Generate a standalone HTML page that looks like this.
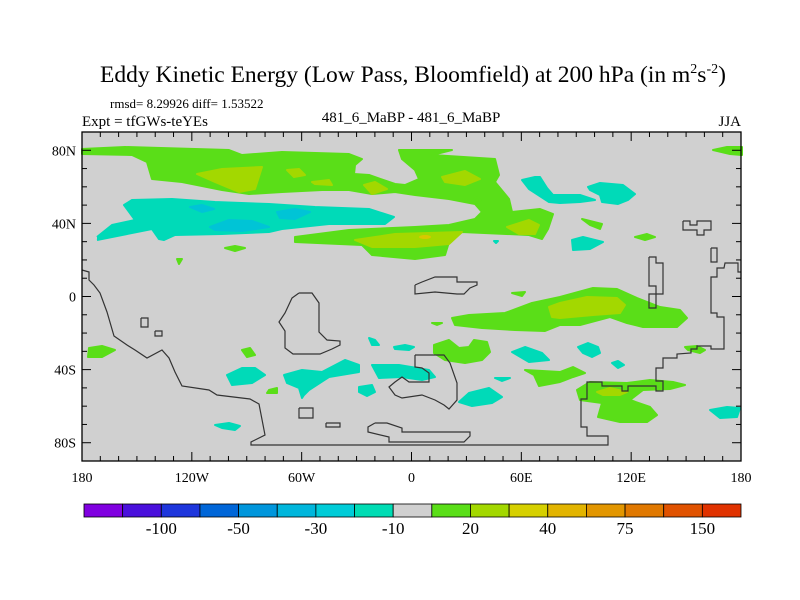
<!DOCTYPE html>
<html><head><meta charset="utf-8"><style>
body{margin:0;background:#fff}
svg{display:block;font-family:"Liberation Serif",serif}
</style></head><body>
<svg id="chart" width="800" height="600" viewBox="0 0 800 600" xmlns="http://www.w3.org/2000/svg">
<rect width="800" height="600" fill="#fff"/>
<text x="413" y="82" text-anchor="middle" font-size="23.5">Eddy Kinetic Energy (Low Pass, Bloomfield) at 200 hPa (in m<tspan dy="-9" font-size="14">2</tspan><tspan dy="9">s</tspan><tspan dy="-9" font-size="14">-2</tspan><tspan dy="9">)</tspan></text>
<text x="110" y="108" font-size="13">rmsd= 8.29926 diff= 1.53522</text>
<text x="82" y="126" font-size="15">Expt = tfGWs-teYEs</text>
<text x="411" y="122" text-anchor="middle" font-size="15">481_6_MaBP - 481_6_MaBP</text>
<text x="741" y="126" text-anchor="end" font-size="15">JJA</text>
<g id="map">
<rect x="82" y="132" width="659" height="329" fill="#d0d0d0"/>
<g id="contours"></g>
<g id="coast" fill="none" stroke="#333" stroke-width="1.2"></g>
<rect x="82" y="132" width="659" height="329" fill="none" stroke="#000" stroke-width="1.3"/>
<g id="ticks" stroke="#000" stroke-width="1"></g>
<g id="labels" font-size="14"></g>
</g>
<g id="cbar"></g>
<script>
const levelLabels=["-100","-50","-30","-10","20","40","75","150"];
const barColors=["#8000e0","#4a10dc","#1e36dc","#0066d8","#0096dc","#00b6dc","#00ccd8","#00dcb4","#d0d0d0","#5ade18","#a3d800","#d6d000","#e2b400","#e29600","#e07800","#e05200","#e03200"];
const latTicks=["80N","40N","0","40S","80S"];
const latVals=[80,40,0,-40,-80];
const lonTicks=["180","120W","60W","0","60E","120E","180"];
const lonVals=[-180,-120,-60,0,60,120,180];
const NS="http://www.w3.org/2000/svg";
const X=l=>82+(l+180)*659/360, Y=la=>296.5-la*329/180;
function mk(t,p,a){const e=document.createElementNS(NS,t);for(const k in a)e.setAttribute(k,a[k]);p.appendChild(e);return e;}
const G="#5ade18",YG="#a3d800",T="#00dab8",C="#00c4d6",GD="#d8c800";
const shapes=[
[G,"82,149 125,147 229,150 242,155 282,152 349,154 362,159 355,165 354,174 369,175 395,184 405,185 419,179 415,170 402,159 399,150 452,150 432,155 495,159 499,175 495,182 509,199 512,212 540,209 553,214 548,229 542,239 529,235 462,232 449,242 445,255 415,259 372,255 362,245 295,242 295,237 349,230 415,227 449,225 475,219 482,212 475,204 449,199 415,195 395,192 372,194 349,190 322,190 282,192 249,194 222,190 182,182 152,179 147,162 132,155 82,154"],
[YG,"197,174 222,169 262,167 255,189 239,192 215,182"],[YG,"287,170 299,169 305,175 294,177"],[YG,"312,182 329,180 332,185 315,184"],[YG,"364,185 375,182 387,189 372,194"],[YG,"442,177 465,171 480,179 465,185 445,182"],[YG,"507,227 529,220 539,225 535,234 519,234"],[YG,"355,240 395,234 462,232 449,244 415,247 372,247"],
[T,"97,237 112,225 135,220 124,205 132,200 172,199 215,202 269,204 315,207 369,209 394,217 385,224 329,224 282,229 269,232 222,234 175,235 164,240 159,239 152,229 97,240 M147,220 165,217 192,219 189,224 154,227 147,224"],
[C,"190,207 202,205 214,209 202,212"],[C,"277,212 295,209 310,212 295,219 280,218"],[C,"210,227 229,220 252,221 269,227 242,231 215,230"],
[T,"522,180 535,177 540,177 547,188 553,195 580,195 595,200 580,202 560,203 549,202 529,189"],
[T,"588,187 600,183 623,185 635,194 628,200 618,204 602,202 600,195 590,190"],
[G,"477,197 481,200 477,203 473,200"],[G,"225,248 235,246 245,248 235,251"],[G,"177,259 182,259 179,264"],
[G,"582,219 602,224 600,229 590,225"],[T,"572,240 583,237 603,242 590,249 573,250"],[G,"635,237 647,234 655,237 645,240"],[T,"494,241 498,241 496,243"],
[G,"713,150 727,147 742,147 742,155 730,154"],
[G,"89,348 102,346 115,350 102,357 88,357"],[G,"242,350 250,348 255,355 247,357"],
[T,"227,375 242,368 255,368 265,375 252,383 232,385"],[G,"269,390 277,388 277,393 267,393"],
[T,"284,375 302,370 322,372 345,360 359,365 359,372 329,377 309,390 304,395 302,398 299,388 287,383"],
[T,"215,425 229,423 240,426 235,430 222,428"],[T,"369,338 375,340 379,345 372,345"],[T,"394,347 405,345 414,347 409,350 395,349"],
[T,"372,365 399,365 429,370 435,377 422,380 402,377 379,378"],[T,"359,387 372,385 375,392 367,396 359,392"],
[G,"434,345 449,340 459,348 469,347 474,340 487,342 490,352 482,360 465,363 445,360 434,353"],
[T,"459,402 469,393 489,388 502,397 492,403 472,406"],[T,"512,352 525,347 542,353 549,360 529,362"],[T,"495,378 510,378 502,381"],
[G,"432,323 442,323 437,325"],[G,"512,293 525,292 522,296"],
[G,"452,318 469,315 505,313 532,303 560,297 593,288 617,289 637,298 660,307 680,310 687,318 677,327 643,327 627,323 610,317 580,325 560,325 545,331 515,330 482,328 455,325"],
[YG,"549,307 560,303 587,297 617,298 625,305 620,313 593,315 560,318 552,317"],
[T,"578,347 588,343 598,347 600,353 592,357 583,353"],[T,"612,363 618,361 624,365 618,368"],[G,"685,347 697,346 705,350 700,353 688,350"],
[G,"525,370 560,372 573,367 585,373 573,377 560,382 539,386 534,375"],
[G,"577,390 590,382 627,383 650,380 673,382 685,385 670,389 643,390 630,400 650,407 657,415 647,422 620,422 598,417 602,403 580,400"],
[YG,"597,392 610,388 627,392 620,395 603,395"],[T,"710,410 727,407 740,408 737,417 720,418"]
];
const cg=document.getElementById('contours');
shapes.forEach(([c,p],i)=>{
  const d="M"+p.replace(/ M/g," Z M").split(" ").join(" L").replace(/L M/g,"M")+" Z";
  const e=mk('path',cg,{d:d,fill:c,'fill-rule':'evenodd','stroke':c,'stroke-width':2,'stroke-linejoin':'round'});
  
  
});
const gd=mk('ellipse',cg,{cx:425,cy:237,rx:6,ry:2,fill:GD});


const coasts=[
"82,270 89,272 89,280 94,285 100,293 107,312 114,336 127,345 135,350 147,358 162,350 169,358 175,372 182,386 209,390 217,395 250,399 259,404 265,435 251,442 251,445 608,445 608,436 587,436 587,427 581,427 581,399 587,399 587,382 602,382 602,386 622,386 622,391 628,391 628,386 656,386 656,391 663,391 663,381 656,381 656,368 663,368 663,358 677,358 677,354 691,353 691,349 697,349 697,346 711,346 711,349 724,349 724,317 717,317 717,313 711,313 711,277 717,277 717,268 724,268 725,263 738,263 738,272 741,272",
"299,293 312,293 319,303 319,332 327,340 340,341 340,345 332,349 320,354 293,354 285,348 285,331 279,322 285,313 292,298 299,293",
"415,355 444,355 450,363 457,383 457,400 449,409 444,405 435,400 422,395 402,398 395,395 389,387 395,382 402,377 409,382 429,382 429,373 422,368 415,367 415,355",
"415,285 422,282 435,277 457,277 457,282 477,282 477,285 470,288 464,294 457,294 435,292 415,294 415,285",
"375,423 387,423 402,428 402,432 470,432 470,436 464,442 389,442 389,437 368,432 368,427 375,423",
"141,318 148,318 148,327 141,327 141,318","155,331 162,331 162,336 155,336 155,331","299,408 313,408 313,418 299,418 299,408","326,423 340,423 340,427 326,427 326,423",
"683,221 690,221 690,225 697,225 697,221 711,221 711,230 704,230 704,235 697,235 697,230 683,230 683,221",
"711,248 717,248 717,262 711,262 711,248",
"649,257 656,257 656,263 663,263 663,294 656,294 656,308 649,308 649,294 656,294 656,286 649,286 649,257"
];
const cl=document.getElementById('coast');
coasts.forEach(p=>{const e=mk('polyline',cl,{points:p});

});
const tk=document.getElementById('ticks');
for(let l=-180;l<=180;l+=10){const x=X(l),L=(l%60===0)?9:5;mk('line',tk,{x1:x,y1:132,x2:x,y2:132+L});mk('line',tk,{x1:x,y1:461,x2:x,y2:461-L});}
for(let la=-90;la<=90;la+=10){const y=Y(la),L=(la%40===0&&la!==0||la===0)?9:5;mk('line',tk,{x1:82,y1:y,x2:82+L,y2:y});mk('line',tk,{x1:741,y1:y,x2:741-L,y2:y});}
const lb=document.getElementById('labels');
latVals.forEach((v,i)=>{const t=mk('text',lb,{x:76,y:Y(v)+5,'text-anchor':'end'});t.textContent=latTicks[i];

});
lonVals.forEach((v,i)=>{const t=mk('text',lb,{x:X(v),y:482,'text-anchor':'middle'});t.textContent=lonTicks[i];

});
const cb=document.getElementById('cbar');const x0=84,w=(741-84)/barColors.length;
barColors.forEach((c,i)=>{const r=mk('rect',cb,{x:x0+i*w,y:504,width:w,height:13,fill:c,stroke:'#000','stroke-width':0.8});

});
levelLabels.forEach((s,i)=>{const t=mk('text',cb,{x:x0+(2*i+2)*w,y:534,'text-anchor':'middle','font-size':17});t.textContent=s;

});
</script>
</svg>
</body></html>
